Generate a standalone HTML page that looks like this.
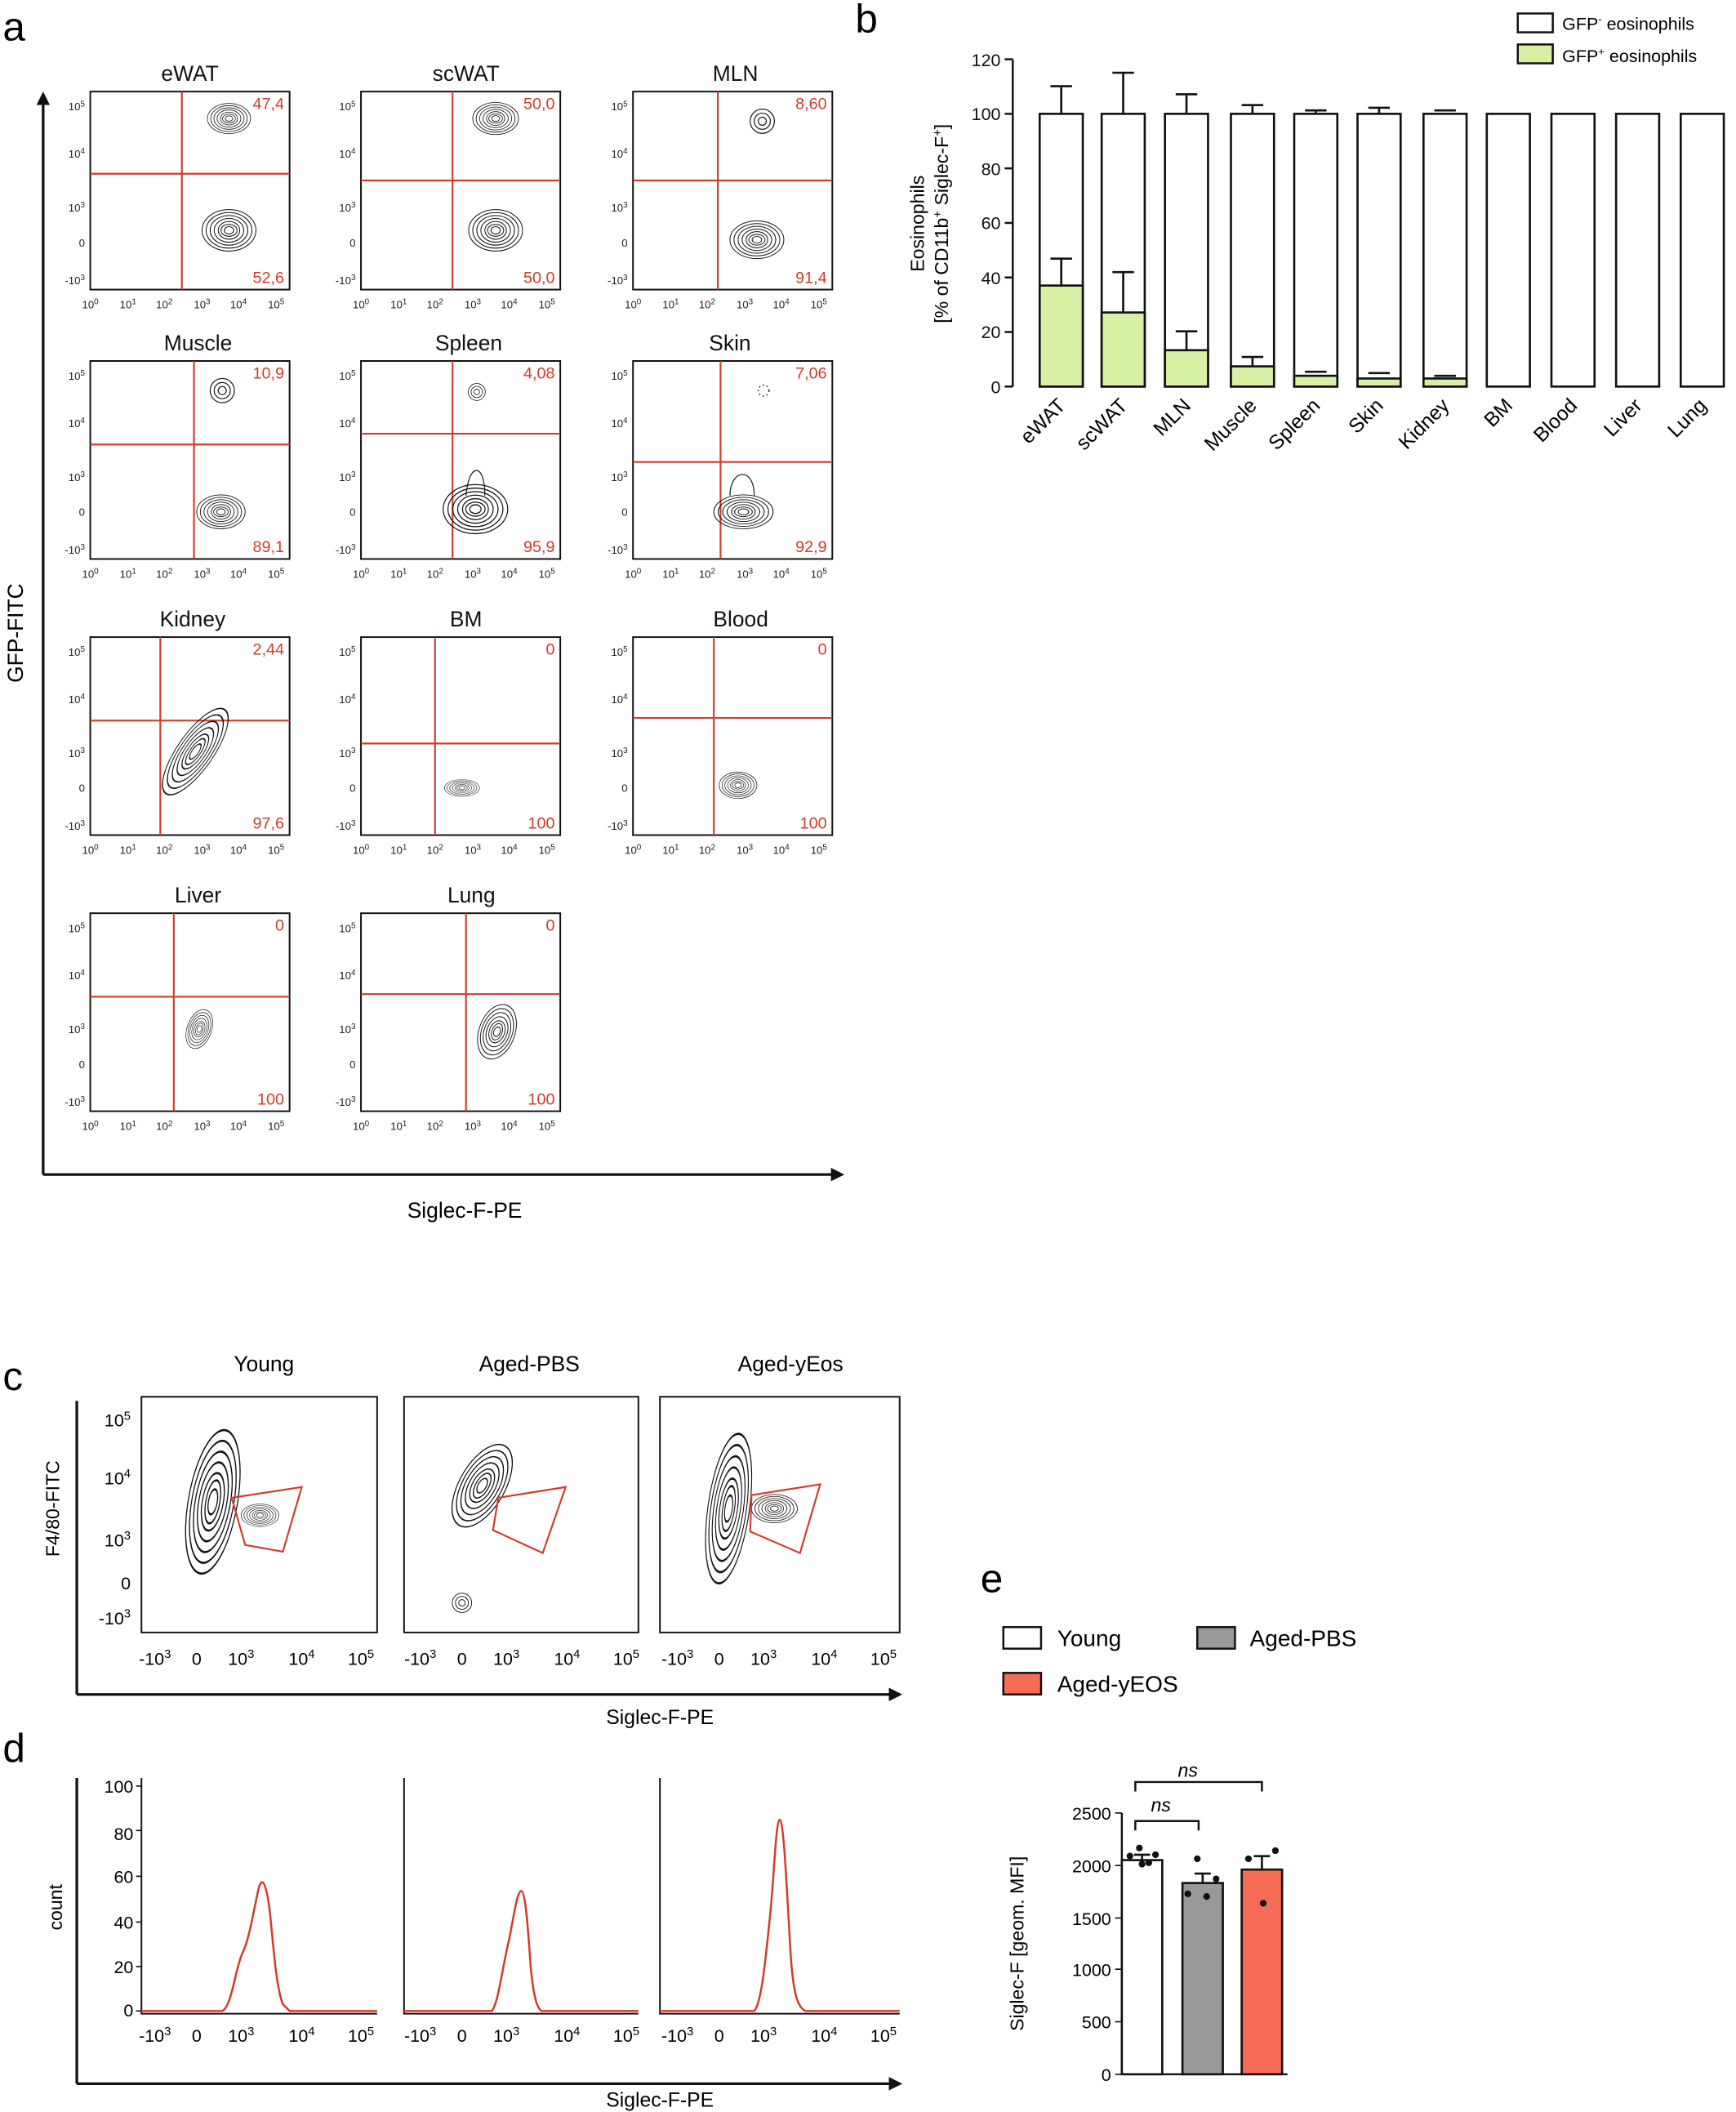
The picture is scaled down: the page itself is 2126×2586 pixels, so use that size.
<!DOCTYPE html>
<html><head><meta charset="utf-8"><style>
html,body{margin:0;padding:0;background:#fff}
svg{display:block}
text{font-family:"Liberation Sans",Arial,sans-serif}
.t{font-size:8px;fill:#222}
.ti{font-size:16px;fill:#111}
.r{font-size:12px;fill:#d23a2a}
.g{stroke:#d23a2a;stroke-width:1.3;fill:none}
.f{fill:none;stroke:#111;stroke-width:1.2}
.ax{font-size:13px;fill:#111}
</style></head><body>
<svg width="2126" height="2586" viewBox="0 0 1289 1568" xmlns="http://www.w3.org/2000/svg">
<defs>
<marker id="ar" markerWidth="10" markerHeight="10" refX="8" refY="5" orient="auto" markerUnits="userSpaceOnUse"><path d="M0,0 L10,5 L0,10 z" fill="#111"/></marker>
<g id="blob" fill="none" stroke="#111" stroke-width="0.6">
<ellipse rx="20" ry="14"/><ellipse rx="17" ry="12"/><ellipse rx="14" ry="10"/><ellipse rx="11" ry="8"/><ellipse rx="8" ry="6"/><ellipse rx="6" ry="4"/><ellipse rx="3.5" ry="2.5"/>
</g>
<g id="small" fill="none" stroke="#111" stroke-width="0.7"><ellipse rx="9" ry="9"/><ellipse rx="6" ry="6"/><ellipse rx="3" ry="3"/></g>
<g id="yl" class="t">
<text x="-4" y="14" text-anchor="end">10<tspan dy="-3" font-size="6">5</tspan></text>
<text x="-4" y="49" text-anchor="end">10<tspan dy="-3" font-size="6">4</tspan></text>
<text x="-4" y="89" text-anchor="end">10<tspan dy="-3" font-size="6">3</tspan></text>
<text x="-4" y="115" text-anchor="end">0</text>
<text x="-4" y="143" text-anchor="end">-10<tspan dy="-3" font-size="6">3</tspan></text>
<text x="0" y="161" text-anchor="middle">10<tspan dy="-3" font-size="6">0</tspan></text>
<text x="28" y="161" text-anchor="middle">10<tspan dy="-3" font-size="6">1</tspan></text>
<text x="55" y="161" text-anchor="middle">10<tspan dy="-3" font-size="6">2</tspan></text>
<text x="83" y="161" text-anchor="middle">10<tspan dy="-3" font-size="6">3</tspan></text>
<text x="110" y="161" text-anchor="middle">10<tspan dy="-3" font-size="6">4</tspan></text>
<text x="138" y="161" text-anchor="middle">10<tspan dy="-3" font-size="6">5</tspan></text>
</g>
</defs>

<!-- Panel a -->
<text x="2" y="30" font-size="30">a</text>
<line x1="32" y1="872" x2="32" y2="70" stroke="#111" stroke-width="2" marker-end="url(#ar)"/>
<line x1="32" y1="872" x2="625" y2="872" stroke="#111" stroke-width="2" marker-end="url(#ar)"/>
<text transform="translate(17,470) rotate(-90)" font-size="16" text-anchor="middle">GFP-FITC</text>
<text x="345" y="904" font-size="16" text-anchor="middle">Siglec-F-PE</text>

<g transform="translate(67,68)"><text class="ti" x="74" y="-8" text-anchor="middle">eWAT</text><rect class="f" width="148" height="147"/><use href="#yl"/><line class="g" x1="68" y1="0" x2="68" y2="147"/><line class="g" x1="0" y1="61" x2="148" y2="61"/><use href="#blob" transform="translate(103,20) scale(0.8)"/><use href="#blob" transform="translate(103,103) scale(1,1.1)"/><text class="r" x="144" y="13" text-anchor="end">47,4</text><text class="r" x="144" y="142" text-anchor="end">52,6</text></g>
<g transform="translate(268,68)"><text class="ti" x="78" y="-8" text-anchor="middle">scWAT</text><rect class="f" width="148" height="147"/><use href="#yl"/><line class="g" x1="68" y1="0" x2="68" y2="147"/><line class="g" x1="0" y1="66" x2="148" y2="66"/><use href="#blob" transform="translate(100,20) scale(0.85)"/><use href="#blob" transform="translate(100,103) scale(1,1.1)"/><text class="r" x="144" y="13" text-anchor="end">50,0</text><text class="r" x="144" y="142" text-anchor="end">50,0</text></g>
<g transform="translate(470,68)"><text class="ti" x="76" y="-8" text-anchor="middle">MLN</text><rect class="f" width="148" height="147"/><use href="#yl"/><line class="g" x1="63" y1="0" x2="63" y2="147"/><line class="g" x1="0" y1="66" x2="148" y2="66"/><use href="#small" transform="translate(96,22)"/><use href="#blob" transform="translate(92,110)"/><text class="r" x="144" y="13" text-anchor="end">8,60</text><text class="r" x="144" y="142" text-anchor="end">91,4</text></g>
<g transform="translate(67,268)"><text class="ti" x="80" y="-8" text-anchor="middle">Muscle</text><rect class="f" width="148" height="147"/><use href="#yl"/><line class="g" x1="77" y1="0" x2="77" y2="147"/><line class="g" x1="0" y1="62" x2="148" y2="62"/><use href="#small" transform="translate(98,22)"/><use href="#blob" transform="translate(97,112) scale(0.9)"/><text class="r" x="144" y="13" text-anchor="end">10,9</text><text class="r" x="144" y="142" text-anchor="end">89,1</text></g>
<g transform="translate(268,268)"><text class="ti" x="80" y="-8" text-anchor="middle">Spleen</text><rect class="f" width="148" height="147"/><use href="#yl"/><line class="g" x1="68" y1="0" x2="68" y2="147"/><line class="g" x1="0" y1="54" x2="148" y2="54"/><use href="#small" transform="translate(86,23) scale(0.7)"/><use href="#blob" transform="translate(85,110) scale(1.2,1.3)"/><path d="M78,100 C80,75 92,75 92,100" fill="none" stroke="#111" stroke-width="0.7"/><text class="r" x="144" y="13" text-anchor="end">4,08</text><text class="r" x="144" y="142" text-anchor="end">95,9</text></g>
<g transform="translate(470,268)"><text class="ti" x="72" y="-8" text-anchor="middle">Skin</text><rect class="f" width="148" height="147"/><use href="#yl"/><line class="g" x1="65" y1="0" x2="65" y2="147"/><line class="g" x1="0" y1="75" x2="148" y2="75"/><use href="#blob" transform="translate(82,112) scale(1.1,0.9)"/><path d="M72,100 C72,80 90,78 90,100" fill="none" stroke="#111" stroke-width="0.7"/><circle cx="97" cy="22" r="4" fill="none" stroke="#333" stroke-dasharray="1,2"/><text class="r" x="144" y="13" text-anchor="end">7,06</text><text class="r" x="144" y="142" text-anchor="end">92,9</text></g>
<g transform="translate(67,473)"><text class="ti" x="76" y="-8" text-anchor="middle">Kidney</text><rect class="f" width="148" height="147"/><use href="#yl"/><line class="g" x1="52" y1="0" x2="52" y2="147"/><line class="g" x1="0" y1="62" x2="148" y2="62"/><use href="#blob" transform="translate(78,85) rotate(-55) scale(1.9,0.95)"/><text class="r" x="144" y="13" text-anchor="end">2,44</text><text class="r" x="144" y="142" text-anchor="end">97,6</text></g>
<g transform="translate(268,473)"><text class="ti" x="78" y="-8" text-anchor="middle">BM</text><rect class="f" width="148" height="147"/><use href="#yl"/><line class="g" x1="55" y1="0" x2="55" y2="147"/><line class="g" x1="0" y1="79" x2="148" y2="79"/><use href="#blob" transform="translate(75,112) scale(0.65,0.45)"/><text class="r" x="144" y="13" text-anchor="end">0</text><text class="r" x="144" y="142" text-anchor="end">100</text></g>
<g transform="translate(470,473)"><text class="ti" x="80" y="-8" text-anchor="middle">Blood</text><rect class="f" width="148" height="147"/><use href="#yl"/><line class="g" x1="60" y1="0" x2="60" y2="147"/><line class="g" x1="0" y1="60" x2="148" y2="60"/><use href="#blob" transform="translate(78,110) scale(0.7,0.7)"/><text class="r" x="144" y="13" text-anchor="end">0</text><text class="r" x="144" y="142" text-anchor="end">100</text></g>
<g transform="translate(67,678)"><text class="ti" x="80" y="-8" text-anchor="middle">Liver</text><rect class="f" width="148" height="147"/><use href="#yl"/><line class="g" x1="62" y1="0" x2="62" y2="147"/><line class="g" x1="0" y1="62" x2="148" y2="62"/><use href="#blob" transform="translate(81,86) rotate(-70) scale(0.75,0.65)"/><text class="r" x="144" y="13" text-anchor="end">0</text><text class="r" x="144" y="142" text-anchor="end">100</text></g>
<g transform="translate(268,678)"><text class="ti" x="82" y="-8" text-anchor="middle">Lung</text><rect class="f" width="148" height="147"/><use href="#yl"/><line class="g" x1="78" y1="0" x2="78" y2="147"/><line class="g" x1="0" y1="60" x2="148" y2="60"/><use href="#blob" transform="translate(101,88) rotate(-70) scale(1.05,0.95)"/><text class="r" x="144" y="13" text-anchor="end">0</text><text class="r" x="144" y="142" text-anchor="end">100</text></g>

<!-- Panel b -->
<text x="635" y="24" font-size="30">b</text>
<g font-size="13">
<rect x="1127" y="10" width="26" height="14" fill="#fff" stroke="#111" stroke-width="1.5"/><text x="1160" y="22">GFP<tspan dy="-5" font-size="8">-</tspan><tspan dy="5"> eosinophils</tspan></text>
<rect x="1127" y="33" width="26" height="14" fill="#d8f0a4" stroke="#111" stroke-width="1.5"/><text x="1160" y="46">GFP<tspan dy="-5" font-size="8">+</tspan><tspan dy="5"> eosinophils</tspan></text>
</g>
<line x1="752" y1="44" x2="752" y2="287" stroke="#111" stroke-width="1.5"/>
<g stroke="#111" stroke-width="1.5">
<line x1="746" y1="44" x2="752" y2="44"/><line x1="746" y1="84.5" x2="752" y2="84.5"/><line x1="746" y1="125" x2="752" y2="125"/><line x1="746" y1="165.5" x2="752" y2="165.5"/><line x1="746" y1="206" x2="752" y2="206"/><line x1="746" y1="246.5" x2="752" y2="246.5"/><line x1="746" y1="287" x2="752" y2="287"/>
</g>
<g class="ax" text-anchor="end">
<text x="743" y="49">120</text><text x="743" y="89">100</text><text x="743" y="130">80</text><text x="743" y="170">60</text><text x="743" y="211">40</text><text x="743" y="251">20</text><text x="743" y="292">0</text>
</g>
<text transform="translate(686,166) rotate(-90)" font-size="14" text-anchor="middle">Eosinophils</text>
<text transform="translate(704,166) rotate(-90)" font-size="14" text-anchor="middle">[% of CD11b<tspan dy="-5" font-size="9">+</tspan><tspan dy="5"> Siglec-F</tspan><tspan dy="-5" font-size="9">+</tspan><tspan dy="5">]</tspan></text>
<g stroke="#111" stroke-width="1.6">
<rect x="772" y="84.5" width="32" height="202.5" fill="#fff"/><rect x="772" y="212" width="32" height="75" fill="#d8f0a4"/><line x1="788" y1="84.5" x2="788" y2="64"/><line x1="780" y1="64" x2="796" y2="64"/><line x1="788" y1="212" x2="788" y2="192"/><line x1="780" y1="192" x2="796" y2="192"/>
<rect x="818" y="84.5" width="32" height="202.5" fill="#fff"/><rect x="818" y="232" width="32" height="55" fill="#d8f0a4"/><line x1="834" y1="84.5" x2="834" y2="54"/><line x1="826" y1="54" x2="842" y2="54"/><line x1="834" y1="232" x2="834" y2="202"/><line x1="826" y1="202" x2="842" y2="202"/>
<rect x="865" y="84.5" width="32" height="202.5" fill="#fff"/><rect x="865" y="260" width="32" height="27" fill="#d8f0a4"/><line x1="881" y1="84.5" x2="881" y2="70"/><line x1="873" y1="70" x2="889" y2="70"/><line x1="881" y1="260" x2="881" y2="246"/><line x1="873" y1="246" x2="889" y2="246"/>
<rect x="914" y="84.5" width="32" height="202.5" fill="#fff"/><rect x="914" y="272" width="32" height="15" fill="#d8f0a4"/><line x1="930" y1="84.5" x2="930" y2="78"/><line x1="922" y1="78" x2="938" y2="78"/><line x1="930" y1="272" x2="930" y2="265"/><line x1="922" y1="265" x2="938" y2="265"/>
<rect x="961" y="84.5" width="32" height="202.5" fill="#fff"/><rect x="961" y="279" width="32" height="8" fill="#d8f0a4"/><line x1="977" y1="84.5" x2="977" y2="82"/><line x1="969" y1="82" x2="985" y2="82"/><line x1="969" y1="276" x2="985" y2="276"/>
<rect x="1008" y="84.5" width="32" height="202.5" fill="#fff"/><rect x="1008" y="281" width="32" height="6" fill="#d8f0a4"/><line x1="1024" y1="84.5" x2="1024" y2="80"/><line x1="1016" y1="80" x2="1032" y2="80"/><line x1="1016" y1="277" x2="1032" y2="277"/>
<rect x="1057" y="84.5" width="32" height="202.5" fill="#fff"/><rect x="1057" y="281" width="32" height="6" fill="#d8f0a4"/><line x1="1065" y1="82" x2="1081" y2="82"/><line x1="1065" y1="279" x2="1081" y2="279"/>
<rect x="1104" y="84.5" width="32" height="202.5" fill="#fff"/>
<rect x="1152" y="84.5" width="32" height="202.5" fill="#fff"/>
<rect x="1200" y="84.5" width="32" height="202.5" fill="#fff"/>
<rect x="1248" y="84.5" width="32" height="202.5" fill="#fff"/>
</g>
<g font-size="15" text-anchor="end">
<text transform="translate(792,302) rotate(-45)">eWAT</text>
<text transform="translate(838,302) rotate(-45)">scWAT</text>
<text transform="translate(885,302) rotate(-45)">MLN</text>
<text transform="translate(934,302) rotate(-45)">Muscle</text>
<text transform="translate(981,302) rotate(-45)">Spleen</text>
<text transform="translate(1028,302) rotate(-45)">Skin</text>
<text transform="translate(1077,302) rotate(-45)">Kidney</text>
<text transform="translate(1124,302) rotate(-45)">BM</text>
<text transform="translate(1172,302) rotate(-45)">Blood</text>
<text transform="translate(1220,302) rotate(-45)">Liver</text>
<text transform="translate(1268,302) rotate(-45)">Lung</text>
</g>

<!-- Panel c -->
<text x="2" y="1032" font-size="30">c</text>
<g font-size="16" text-anchor="middle"><text x="196" y="1018">Young</text><text x="393" y="1018">Aged-PBS</text><text x="587" y="1018">Aged-yEos</text></g>
<line x1="57" y1="1258" x2="57" y2="1040" stroke="#111" stroke-width="2"/>
<line x1="57" y1="1258" x2="668" y2="1258" stroke="#111" stroke-width="2" marker-end="url(#ar)"/>
<text transform="translate(44,1120) rotate(-90)" font-size="14" text-anchor="middle">F4/80-FITC</text>
<text x="490" y="1280" font-size="15" text-anchor="middle">Siglec-F-PE</text>
<g font-size="13" text-anchor="end">
<text x="97" y="1059">10<tspan dy="-5" font-size="9">5</tspan></text><text x="97" y="1102">10<tspan dy="-5" font-size="9">4</tspan></text><text x="97" y="1148">10<tspan dy="-5" font-size="9">3</tspan></text><text x="97" y="1180">0</text><text x="97" y="1206">-10<tspan dy="-5" font-size="9">3</tspan></text>
</g>
<g font-size="13" text-anchor="middle" id="cx">
<text x="115" y="1236">-10<tspan dy="-5" font-size="9">3</tspan></text><text x="146" y="1236">0</text><text x="179" y="1236">10<tspan dy="-5" font-size="9">3</tspan></text><text x="224" y="1236">10<tspan dy="-5" font-size="9">4</tspan></text><text x="268" y="1236">10<tspan dy="-5" font-size="9">5</tspan></text>
</g>
<use href="#cx" transform="translate(197,0)"/><use href="#cx" transform="translate(388,0)"/>
<rect class="f" x="105" y="1037" width="175" height="175"/>
<rect class="f" x="300" y="1037" width="174" height="175"/>
<rect class="f" x="490" y="1037" width="178" height="175"/>
<use href="#blob" transform="translate(158,1115) rotate(-80) scale(2.7,1.3)"/>
<use href="#blob" transform="translate(193,1125) scale(0.7,0.6)"/>
<polygon class="g" points="172,1112 224,1104 210,1152 182,1147"/>
<use href="#blob" transform="translate(358,1103) rotate(-60) scale(1.7,1.2)"/>
<use href="#small" transform="translate(343,1190) scale(0.8)"/>
<polygon class="g" points="370,1112 420,1104 403,1153 366,1136"/>
<use href="#blob" transform="translate(541,1120) rotate(-82) scale(2.8,1.1)"/>
<use href="#blob" transform="translate(575,1120) scale(0.85,0.75)"/>
<polygon class="g" points="558,1110 609,1102 594,1153 557,1137"/>

<!-- Panel d -->
<text x="2" y="1308" font-size="30">d</text>
<line x1="57" y1="1547" x2="57" y2="1320" stroke="#111" stroke-width="2"/>
<line x1="57" y1="1547" x2="668" y2="1547" stroke="#111" stroke-width="2" marker-end="url(#ar)"/>
<text transform="translate(46,1416) rotate(-90)" font-size="14" text-anchor="middle">count</text>
<text x="490" y="1564" font-size="15" text-anchor="middle">Siglec-F-PE</text>
<g font-size="13" text-anchor="end">
<text x="99" y="1331">100</text><text x="99" y="1366">80</text><text x="99" y="1398">60</text><text x="99" y="1432">40</text><text x="99" y="1465">20</text><text x="99" y="1497">0</text>
</g>
<g stroke="#111"><line x1="101" y1="1326" x2="105" y2="1326"/><line x1="101" y1="1359" x2="105" y2="1359"/><line x1="101" y1="1393" x2="105" y2="1393"/><line x1="101" y1="1427" x2="105" y2="1427"/><line x1="101" y1="1460" x2="105" y2="1460"/><line x1="101" y1="1493" x2="105" y2="1493"/></g>
<g transform="translate(0,280)"><use href="#cx"/><use href="#cx" transform="translate(197,0)"/><use href="#cx" transform="translate(388,0)"/></g>
<path d="M105,1320 L105,1495 L280,1495" class="f"/>
<path d="M300,1320 L300,1495 L474,1495" class="f"/>
<path d="M490,1320 L490,1495 L668,1495" class="f"/>
<path d="M105,1493 L165,1493 C172,1490 175,1460 180,1450 C185,1440 188,1420 192,1402 C194,1395 196,1396 198,1405 C202,1420 203,1470 210,1488 L215,1493 L280,1493" fill="none" stroke="#d23a2a" stroke-width="1.5"/>
<path d="M300,1493 L365,1493 C370,1488 373,1460 378,1440 C382,1420 384,1404 387,1404 C390,1404 392,1430 394,1460 C396,1480 398,1490 402,1493 L474,1493" fill="none" stroke="#d23a2a" stroke-width="1.5"/>
<path d="M490,1493 L560,1493 C565,1488 568,1460 572,1420 C575,1390 576,1352 579,1351 C582,1352 584,1400 587,1450 C589,1480 592,1490 598,1493 L668,1493" fill="none" stroke="#d23a2a" stroke-width="1.5"/>

<!-- Panel e -->
<text x="728" y="1182" font-size="30">e</text>
<g font-size="17">
<rect x="745" y="1208" width="28" height="16" fill="#fff" stroke="#111" stroke-width="1.5"/><text x="785" y="1222">Young</text>
<rect x="889" y="1208" width="28" height="16" fill="#999" stroke="#111" stroke-width="1.5"/><text x="928" y="1222">Aged-PBS</text>
<rect x="745" y="1242" width="28" height="16" fill="#f76c56" stroke="#111" stroke-width="1.5"/><text x="785" y="1256">Aged-yEOS</text>
</g>
<line x1="833" y1="1346" x2="833" y2="1540" stroke="#111" stroke-width="1.5"/>
<line x1="833" y1="1540" x2="956" y2="1540" stroke="#111" stroke-width="1.5"/>
<g stroke="#111"><line x1="828" y1="1346" x2="833" y2="1346"/><line x1="828" y1="1385" x2="833" y2="1385"/><line x1="828" y1="1424" x2="833" y2="1424"/><line x1="828" y1="1462" x2="833" y2="1462"/><line x1="828" y1="1501" x2="833" y2="1501"/><line x1="828" y1="1540" x2="833" y2="1540"/></g>
<g font-size="13" text-anchor="end">
<text x="825" y="1351">2500</text><text x="825" y="1390">2000</text><text x="825" y="1429">1500</text><text x="825" y="1467">1000</text><text x="825" y="1506">500</text><text x="825" y="1545">0</text>
</g>
<text transform="translate(760,1443) rotate(-90)" font-size="14" text-anchor="middle">Siglec-F [geom. MFI]</text>
<g stroke="#111" stroke-width="1.6">
<rect x="833" y="1381" width="30" height="159" fill="#fff"/><line x1="848" y1="1381" x2="848" y2="1377"/><line x1="842" y1="1377" x2="854" y2="1377"/>
<rect x="878" y="1398" width="30" height="142" fill="#999"/><line x1="893" y1="1398" x2="893" y2="1391"/><line x1="887" y1="1391" x2="899" y2="1391"/>
<rect x="922" y="1388" width="30" height="152" fill="#f76c56"/><line x1="937" y1="1388" x2="937" y2="1378"/><line x1="931" y1="1378" x2="943" y2="1378"/>
</g>
<g fill="#111"><circle cx="839" cy="1378" r="2.5"/><circle cx="846" cy="1372" r="2.5"/><circle cx="853" cy="1383" r="2.5"/><circle cx="858" cy="1377" r="2.5"/><circle cx="848" cy="1384" r="2.5"/>
<circle cx="882" cy="1406" r="2.5"/><circle cx="889" cy="1380" r="2.5"/><circle cx="896" cy="1408" r="2.5"/><circle cx="903" cy="1395" r="2.5"/>
<circle cx="927" cy="1380" r="2.5"/><circle cx="938" cy="1413" r="2.5"/><circle cx="947" cy="1374" r="2.5"/></g>
<path d="M843,1359 V1352 H890 V1359" fill="none" stroke="#111" stroke-width="1.5"/>
<text x="862" y="1345" font-size="14" font-style="italic" text-anchor="middle">ns</text>
<path d="M843,1330 V1323 H937 V1330" fill="none" stroke="#111" stroke-width="1.5"/>
<text x="882" y="1319" font-size="14" font-style="italic" text-anchor="middle">ns</text>
</svg>
</body></html>
